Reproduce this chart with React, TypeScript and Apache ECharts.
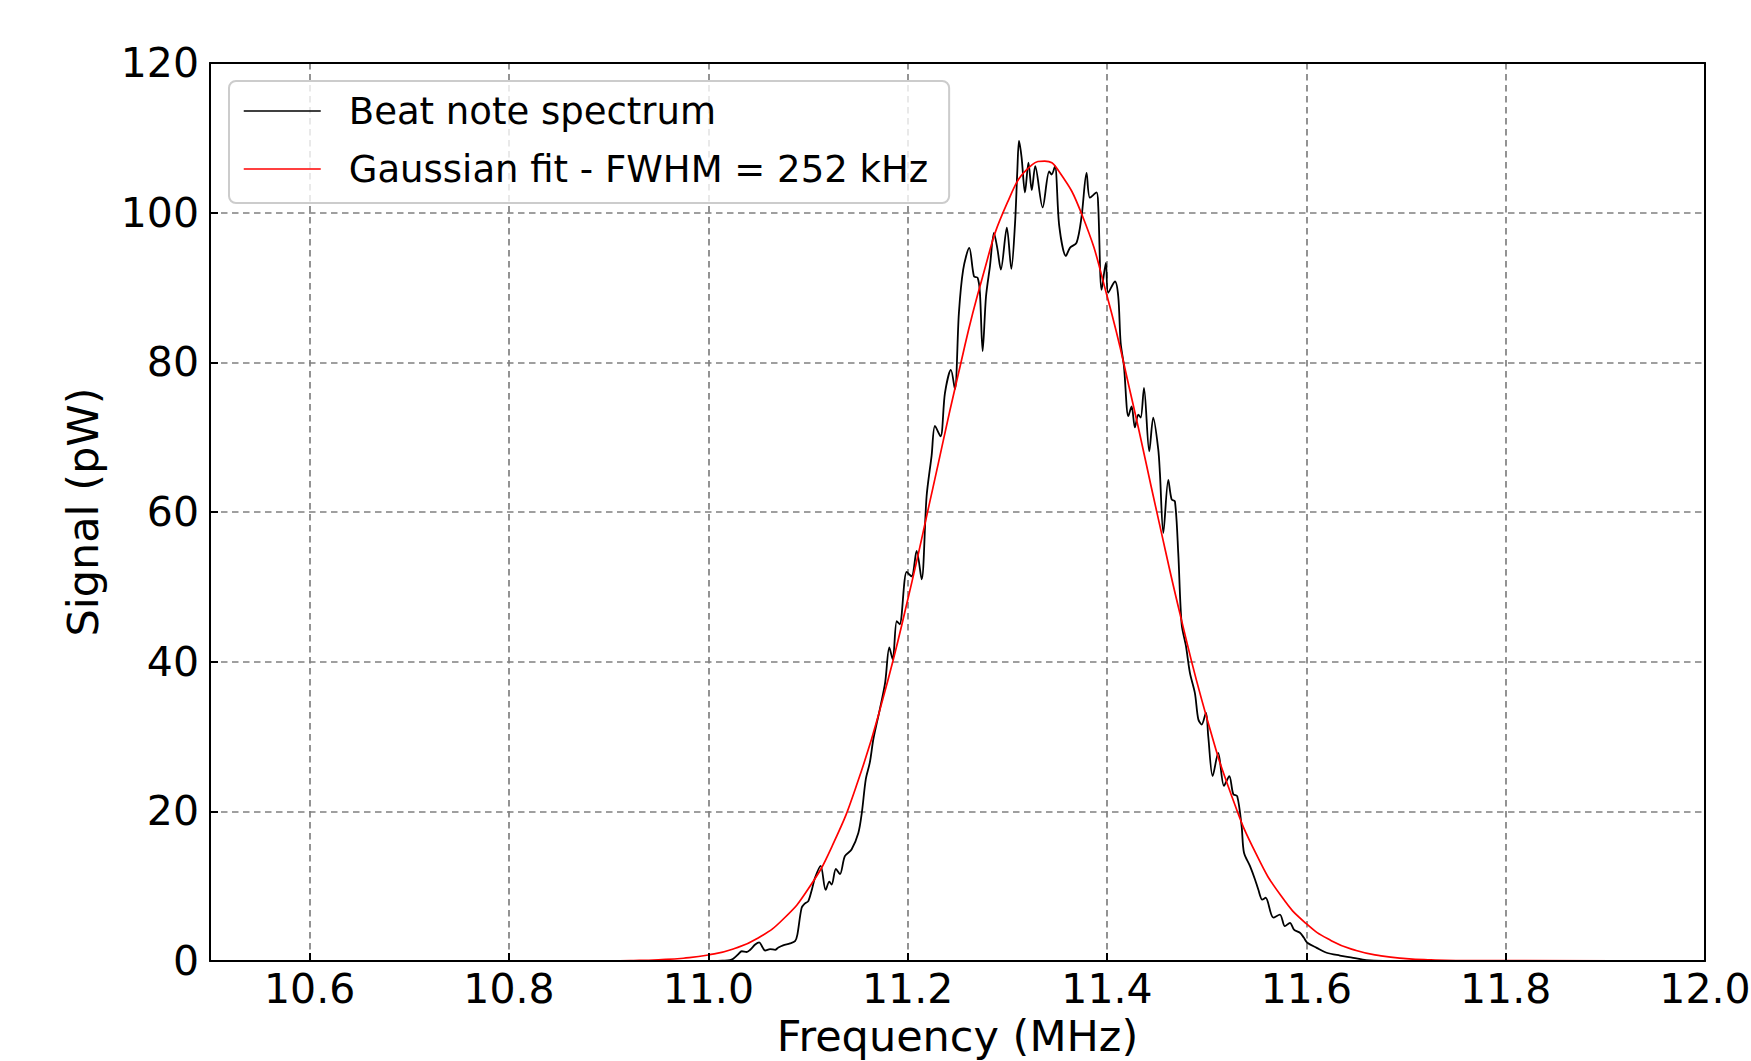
import React, { useEffect, useRef } from 'react';
import * as echarts from 'echarts';

const FONT = 'DejaVu Sans';

const xTickValues = [10.6, 10.8, 11.0, 11.2, 11.4, 11.6, 11.8, 12.0];
const yTickValues = [0, 20, 40, 60, 80, 100, 120];
const legendNames = ['Beat note spectrum', 'Gaussian fit - FWHM = 252 kHz'];

// Beat note spectrum (MHz, pW)
const spectrumFreq = [
  10.5, 11.0, 11.015, 11.0217, 11.025, 11.03, 11.0335, 11.0385, 11.042, 11.047,
  11.0511, 11.0545, 11.057, 11.062, 11.067, 11.0703, 11.075, 11.082, 11.087, 11.0893,
  11.0936, 11.097, 11.1003, 11.104, 11.107, 11.1127, 11.1177, 11.1214, 11.1237, 11.128,
  11.132, 11.137, 11.1437, 11.1505, 11.154, 11.158, 11.162, 11.1655, 11.169, 11.172,
  11.1774, 11.1816, 11.185, 11.189, 11.192, 11.199, 11.204, 11.209, 11.214, 11.219,
  11.224, 11.2274, 11.233, 11.2374, 11.2434, 11.2474, 11.2514, 11.2557, 11.2618, 11.2665,
  11.2702, 11.2725, 11.2752, 11.2786, 11.2826, 11.2866, 11.29, 11.2935, 11.2995, 11.304,
  11.3077, 11.31, 11.3117, 11.3143, 11.3177, 11.3212, 11.3245, 11.328, 11.3354, 11.342,
  11.3445, 11.3478, 11.3521, 11.3588, 11.3628, 11.3695, 11.3745, 11.3795, 11.3829, 11.3895,
  11.3912, 11.3946, 11.3989, 11.4012, 11.408, 11.4113, 11.4137, 11.417, 11.4214, 11.4247,
  11.428, 11.4314, 11.4338, 11.4371, 11.4424, 11.4464, 11.4514, 11.4531, 11.4565, 11.4615,
  11.4648, 11.4682, 11.4715, 11.4749, 11.4792, 11.4832, 11.4882, 11.4916, 11.495, 11.4993,
  11.5016, 11.506, 11.5116, 11.5174, 11.5227, 11.5267, 11.5307, 11.5351, 11.5374, 11.5434,
  11.5485, 11.5518, 11.5558, 11.5592, 11.5669, 11.5735, 11.5785, 11.5836, 11.5876, 11.5936,
  11.5976, 11.601, 11.6104, 11.6204, 11.6337, 11.647, 11.66, 11.677, 12.0,
];
const spectrumSignal = [
  0, 0, 0.05, 0.1, 0.3, 0.9, 1.3, 1.2, 1.5, 2.2,
  2.5, 1.8, 1.4, 1.6, 1.5, 1.8, 2.1, 2.35, 2.65, 3.5,
  7.1, 7.7, 8.0, 9.6, 11.1, 12.7, 9.5, 10.6, 10.2, 12.3,
  11.6, 14.0, 14.9, 17.1, 19.8, 24.3, 26.5, 29.6, 31.8, 33.6,
  37.2, 41.9, 40.3, 45.4, 45.0, 52.0, 51.4, 54.8, 51.0, 62.1,
  67.5, 71.5, 70.1, 75.9, 79.0, 76.4, 86.6, 92.4, 95.3, 91.5,
  91.3, 89.3, 81.5, 88.8, 92.9, 97.3, 95.2, 92.4, 98.0, 92.5,
  98.5, 105.5, 109.6, 107.4, 102.7, 106.7, 103.0, 106.2, 100.7, 105.5,
  105.1, 106.2, 98.2, 94.2, 95.3, 96.0, 99.5, 105.3, 102.0, 102.7,
  100.9, 89.7, 93.3, 89.3, 90.8, 88.8, 82.6, 79.5, 72.8, 74.1,
  71.3, 73.0, 72.6, 76.6, 68.1, 72.6, 68.4, 65.2, 57.2, 64.3,
  61.7, 61.4, 54.5, 45.0, 42.1, 38.5, 35.8, 32.3, 31.6, 33.2,
  30.0, 24.7, 27.8, 23.4, 24.7, 22.3, 22.0, 18.0, 14.5, 12.7,
  10.9, 9.55, 8.2, 8.45, 5.8, 6.2, 4.65, 5.1, 4.2, 3.77,
  3.1, 2.43, 1.76, 1.1, 0.73, 0.43, 0.1, 0, 0,
];

// Gaussian fit curve (MHz, pW)
const fitFreq = [
  10.5, 10.9, 10.925, 10.95, 10.975, 11.0, 11.025, 11.05, 11.075, 11.1,
  11.125, 11.15, 11.175, 11.2, 11.225, 11.25, 11.275, 11.3, 11.325, 11.3375,
  11.35, 11.375, 11.4, 11.425, 11.45, 11.475, 11.5, 11.525, 11.55, 11.575,
  11.6, 11.625, 11.65, 11.675, 11.7, 11.725, 11.75, 12.0,
];
const fitSignal = [
  0, 0.03, 0.07, 0.17, 0.37, 0.8, 1.61, 3.08, 5.58, 9.58,
  15.58, 23.98, 34.96, 48.24, 63.03, 77.97, 91.35, 101.33, 106.43, 106.9,
  105.86, 99.68, 88.89, 75.06, 59.99, 45.42, 32.55, 22.09, 14.2, 8.64,
  4.98, 2.72, 1.4, 0.69, 0.32, 0.14, 0.06, 0,
];

export default function App() {
  const ref = useRef<HTMLDivElement>(null);

  useEffect(() => {
    if (!ref.current) return;
    const chart = echarts.init(ref.current, undefined, { renderer: 'svg' });

    const spectrum = spectrumFreq.map((f, i) => [f, spectrumSignal[i]]);
    const fit = fitFreq.map((f, i) => [f, fitSignal[i]]);

    const gridLine = { color: '#808080', width: 1.7, type: [6.5, 4.5] as number[] };
    const spine = { show: true, onZero: false, lineStyle: { color: '#000000', width: 2 } };
    const tickLine = { color: '#000000', width: 2 };

    chart.setOption({
      animation: false,
      backgroundColor: '#ffffff',
      grid: {
        left: 210,
        top: 63,
        width: 1495,
        height: 898,
        show: false,
        containLabel: false,
        outerBoundsMode: 'none',
      },
      xAxis: [
        {
          // bottom axis: spine, ticks, labels, name (drawn over the curves)
          type: 'value',
          position: 'bottom',
          min: 10.5,
          max: 12.0,
          z: 10,
          name: 'Frequency (MHz)',
          nameLocation: 'middle',
          nameGap: 75,
          nameTextStyle: {
            fontFamily: FONT,
            fontSize: 43,
            color: '#000000',
            verticalAlign: 'middle',
            lineHeight: 43,
          },
          axisLine: spine,
          axisTick: {
            show: true,
            inside: true,
            length: 8,
            customValues: xTickValues,
            lineStyle: tickLine,
          },
          axisLabel: {
            show: true,
            customValues: xTickValues,
            formatter: (v: number) => v.toFixed(1),
            margin: 28,
            verticalAlign: 'middle',
            fontFamily: FONT,
            fontSize: 41,
            lineHeight: 41,
            color: '#000000',
            showMinLabel: true,
            showMaxLabel: true,
          },
          splitLine: { show: false },
        },
        {
          // top axis: top spine and vertical grid lines (below the curves)
          type: 'value',
          position: 'top',
          min: 10.5,
          max: 12.0,
          z: 0,
          axisLine: spine,
          axisTick: { show: false, customValues: xTickValues },
          axisLabel: { show: false, customValues: xTickValues },
          splitLine: { show: true, lineStyle: gridLine },
        },
      ],
      yAxis: [
        {
          type: 'value',
          position: 'left',
          min: 0,
          max: 120,
          interval: 20,
          z: 10,
          name: 'Signal (pW)',
          nameLocation: 'middle',
          nameGap: 127,
          nameRotate: 90,
          nameTextStyle: {
            fontFamily: FONT,
            fontSize: 43,
            color: '#000000',
            verticalAlign: 'middle',
            align: 'center',
            lineHeight: 43,
          },
          axisLine: spine,
          axisTick: { show: true, inside: true, length: 8, lineStyle: tickLine },
          axisLabel: {
            show: true,
            margin: 11,
            fontFamily: FONT,
            fontSize: 41,
            lineHeight: 41,
            color: '#000000',
            formatter: (v: number) => (yTickValues.includes(v) ? String(v) : ''),
          },
          splitLine: { show: false },
        },
        {
          type: 'value',
          position: 'right',
          min: 0,
          max: 120,
          interval: 20,
          z: 0,
          axisLine: spine,
          axisTick: { show: false },
          axisLabel: { show: false },
          splitLine: { show: true, lineStyle: gridLine },
        },
      ],
      legend: {
        show: true,
        orient: 'vertical',
        left: 229,
        top: 81,
        data: legendNames,
        itemWidth: 77,
        itemHeight: 14,
        itemGap: 14,
        padding: [8, 21, 12, 14],
        backgroundColor: 'rgba(255,255,255,0.8)',
        borderColor: '#cccccc',
        borderWidth: 2,
        borderRadius: 7,
        selectedMode: false,
        itemStyle: { color: 'rgba(0,0,0,0)', borderWidth: 0, opacity: 0 },
        lineStyle: { width: 1.5 },
        textStyle: {
          fontFamily: FONT,
          fontSize: 37,
          color: '#000000',
          lineHeight: 44,
          padding: [0, 0, 0, 23],
        },
      },
      series: [
        {
          type: 'line',
          name: legendNames[0],
          xAxisIndex: 0,
          yAxisIndex: 0,
          data: spectrum,
          symbol: 'none',
          showSymbol: false,
          smooth: 0.3,
          lineStyle: { color: '#000000', width: 1.8 },
          itemStyle: { color: '#000000' },
          z: 2,
        },
        {
          type: 'line',
          name: legendNames[1],
          xAxisIndex: 0,
          yAxisIndex: 0,
          data: fit,
          symbol: 'none',
          showSymbol: false,
          smooth: true,
          lineStyle: { color: '#ff0000', width: 1.7 },
          itemStyle: { color: '#ff0000' },
          z: 3,
        },
      ],
    });

    return () => {
      chart.dispose();
    };
  }, []);

  return (
    <div
      ref={ref}
      style={{ position: 'absolute', left: 0, top: 0, width: 1751, height: 1061 }}
    />
  );
}
